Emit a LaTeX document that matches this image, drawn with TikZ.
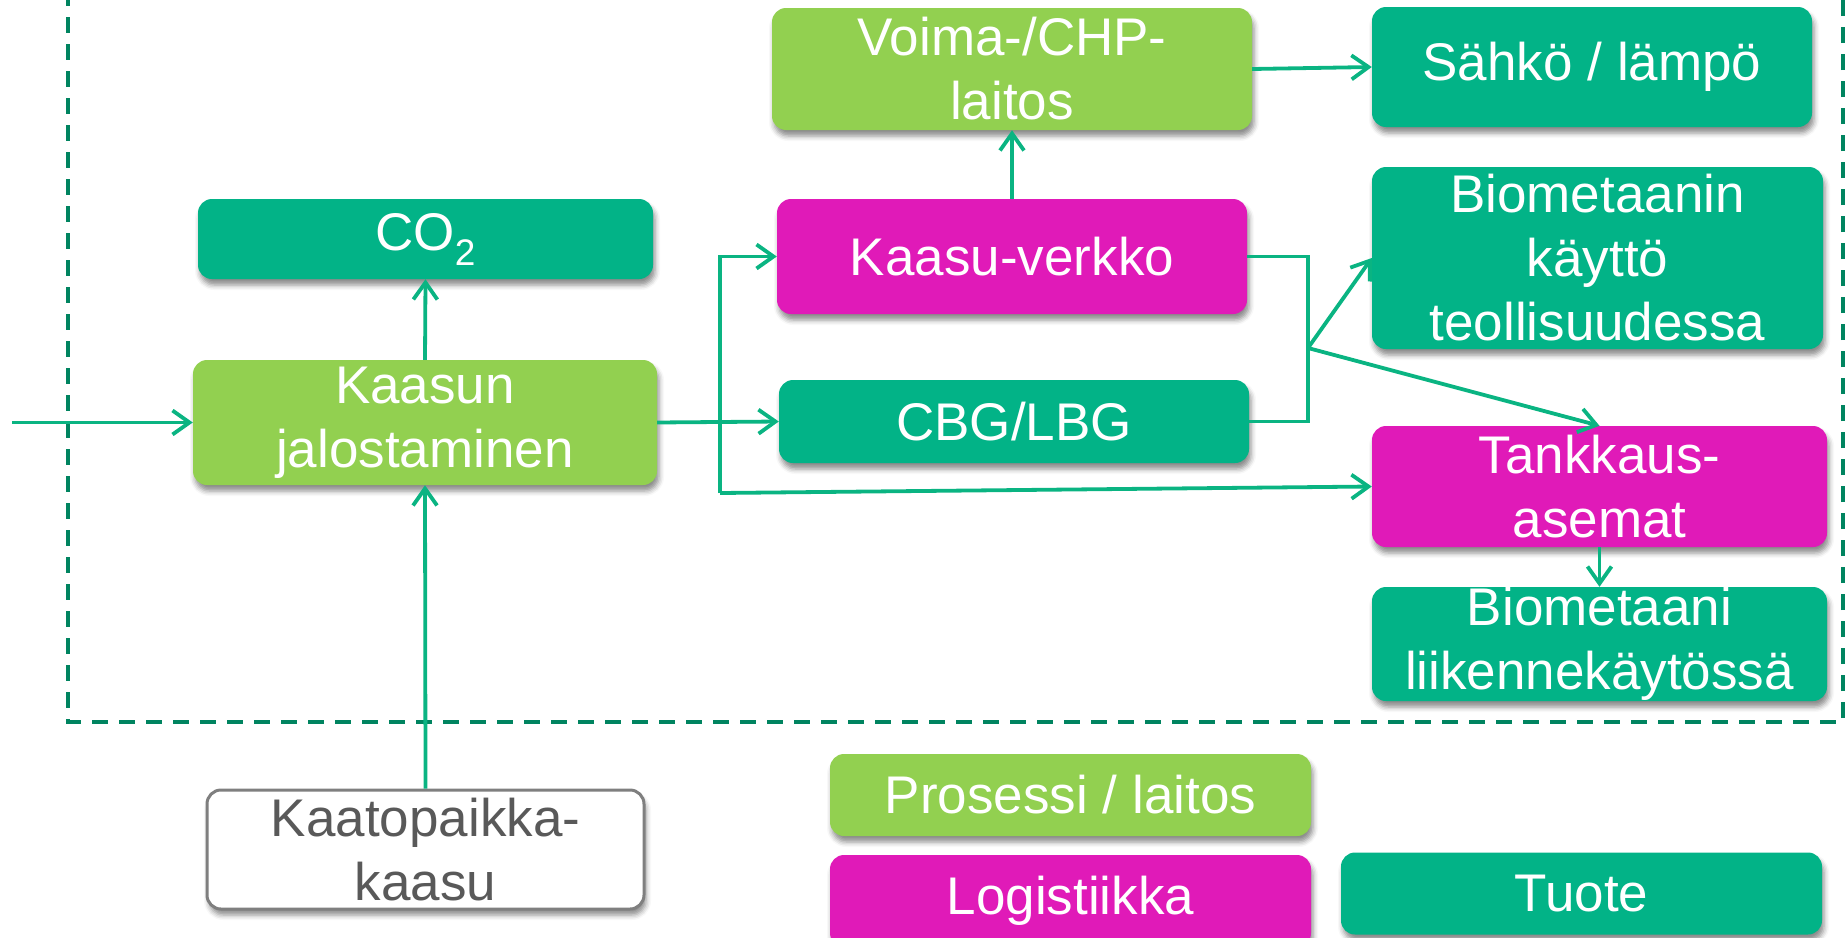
\documentclass[tikz,border=0pt]{standalone}
\usepackage{fontspec}
\setmainfont{Liberation Sans}
\usetikzlibrary{arrows.meta,shadows.blur}
\definecolor{prodc}{RGB}{2,179,135}
\definecolor{procc}{RGB}{146,208,80}
\definecolor{logc}{RGB}{224,26,184}
\definecolor{connc}{RGB}{10,180,130}
\definecolor{framec}{RGB}{0,132,96}
\definecolor{graytxt}{RGB}{89,89,89}
\definecolor{grayline}{RGB}{127,127,127}
\begin{document}
\begin{tikzpicture}[x=1pt,y=-1pt,
  box/.style={rounded corners=14pt, inner sep=0pt, align=center, text=white,
    font=\fontsize{53}{64}\selectfont,
    blur shadow={shadow xshift=2pt, shadow yshift=-6pt, shadow blur radius=5pt, shadow opacity=45}},
  prod/.style={box, fill=prodc},
  proc/.style={box, fill=procc},
  logi/.style={box, fill=logc},
  src/.style={box, fill=white, draw=grayline, line width=3pt, text=graytxt},
  conn/.style={draw=connc, line width=3.8pt},
  arr/.style={conn, -{Straight Barb[length=17pt,width=24pt]}},
  frame/.style={draw=framec, line width=4.5pt, dash pattern=on 16pt off 11pt}
]
\useasboundingbox (0,0) rectangle (1847,937);

% dashed system boundary
\draw[frame] (68,-10) -- (68,722) -- (1843,722) -- (1843,-10);

% nodes
\node[proc, minimum width=480pt, minimum height=122pt] (voima) at (1012,69) {Voima-/CHP-\\laitos};
\node[prod, minimum width=440pt, minimum height=120pt] (sahko) at (1592,67) {Sähkö / lämpö};
\node[prod, minimum width=451pt, minimum height=182pt] (bioind) at (1597.5,258) {Biometaanin\\käyttö\\teollisuudessa};
\node[logi, minimum width=470pt, minimum height=115pt] (kv) at (1012,256.5) {Kaasu-verkko};
\node[prod, minimum width=470pt, minimum height=83pt] (cbg) at (1014,421.5) {CBG/LBG};
\node[logi, minimum width=455pt, minimum height=121pt] (tank) at (1599.5,486.5) {Tankkaus-\\asemat};
\node[prod, minimum width=455pt, minimum height=114pt] (bioliik) at (1599.5,644) {Biometaani\\liikennekäytössä};
\node[prod, minimum width=455pt, minimum height=80pt] (co2) at (425.5,239) {CO\raisebox{-15pt}{\fontsize{37}{37}\selectfont 2}};
\node[proc, minimum width=464pt, minimum height=125pt] (kaasun) at (425,422.5) {Kaasun\\jalostaminen};
\node[src, minimum width=437pt, minimum height=119pt] (kaato) at (425.5,849.5) {Kaatopaikka-\\kaasu};

% legend
\node[proc, minimum width=481pt, minimum height=82pt] (lproc) at (1070.5,795) {Prosessi / laitos};
\node[logi, minimum width=481pt, minimum height=92pt] (llogi) at (1070.5,901) {Logistiikka};
\node[prod, minimum width=481pt, minimum height=82pt] (lprod) at (1581.5,893.5) {Tuote};

% coordinates
\coordinate (in) at (12,422.5);
\coordinate (bt) at (720,256.5);
\coordinate (bb) at (720,493);
\coordinate (rt) at (1308,256.5);
\coordinate (rb) at (1308,421.5);
\coordinate (jn) at (1308,348);

% connectors
\draw[arr] (in) -- (kaasun.west);
\draw[arr] (kaasun.north) -- (co2.south);
\draw[arr] (kaato.north) -- (kaasun.south);
\draw[arr] (kaasun.east) -- (cbg.west);
\draw[arr] (bb) -- (bt) -- (kv.west);
\draw[arr] (bb) -- (tank.west);
\draw[arr] (kv.north) -- (voima.south);
\draw[arr] (voima.east) -- (sahko.west);
\draw[conn] (kv.east) -- (rt) -- (rb) -- (cbg.east);
\draw[arr] (jn) -- (bioind.west);
\draw[arr] (jn) -- (tank.north);
\draw[arr] (tank.south) -- (bioliik.north);
\end{tikzpicture}
\end{document}
